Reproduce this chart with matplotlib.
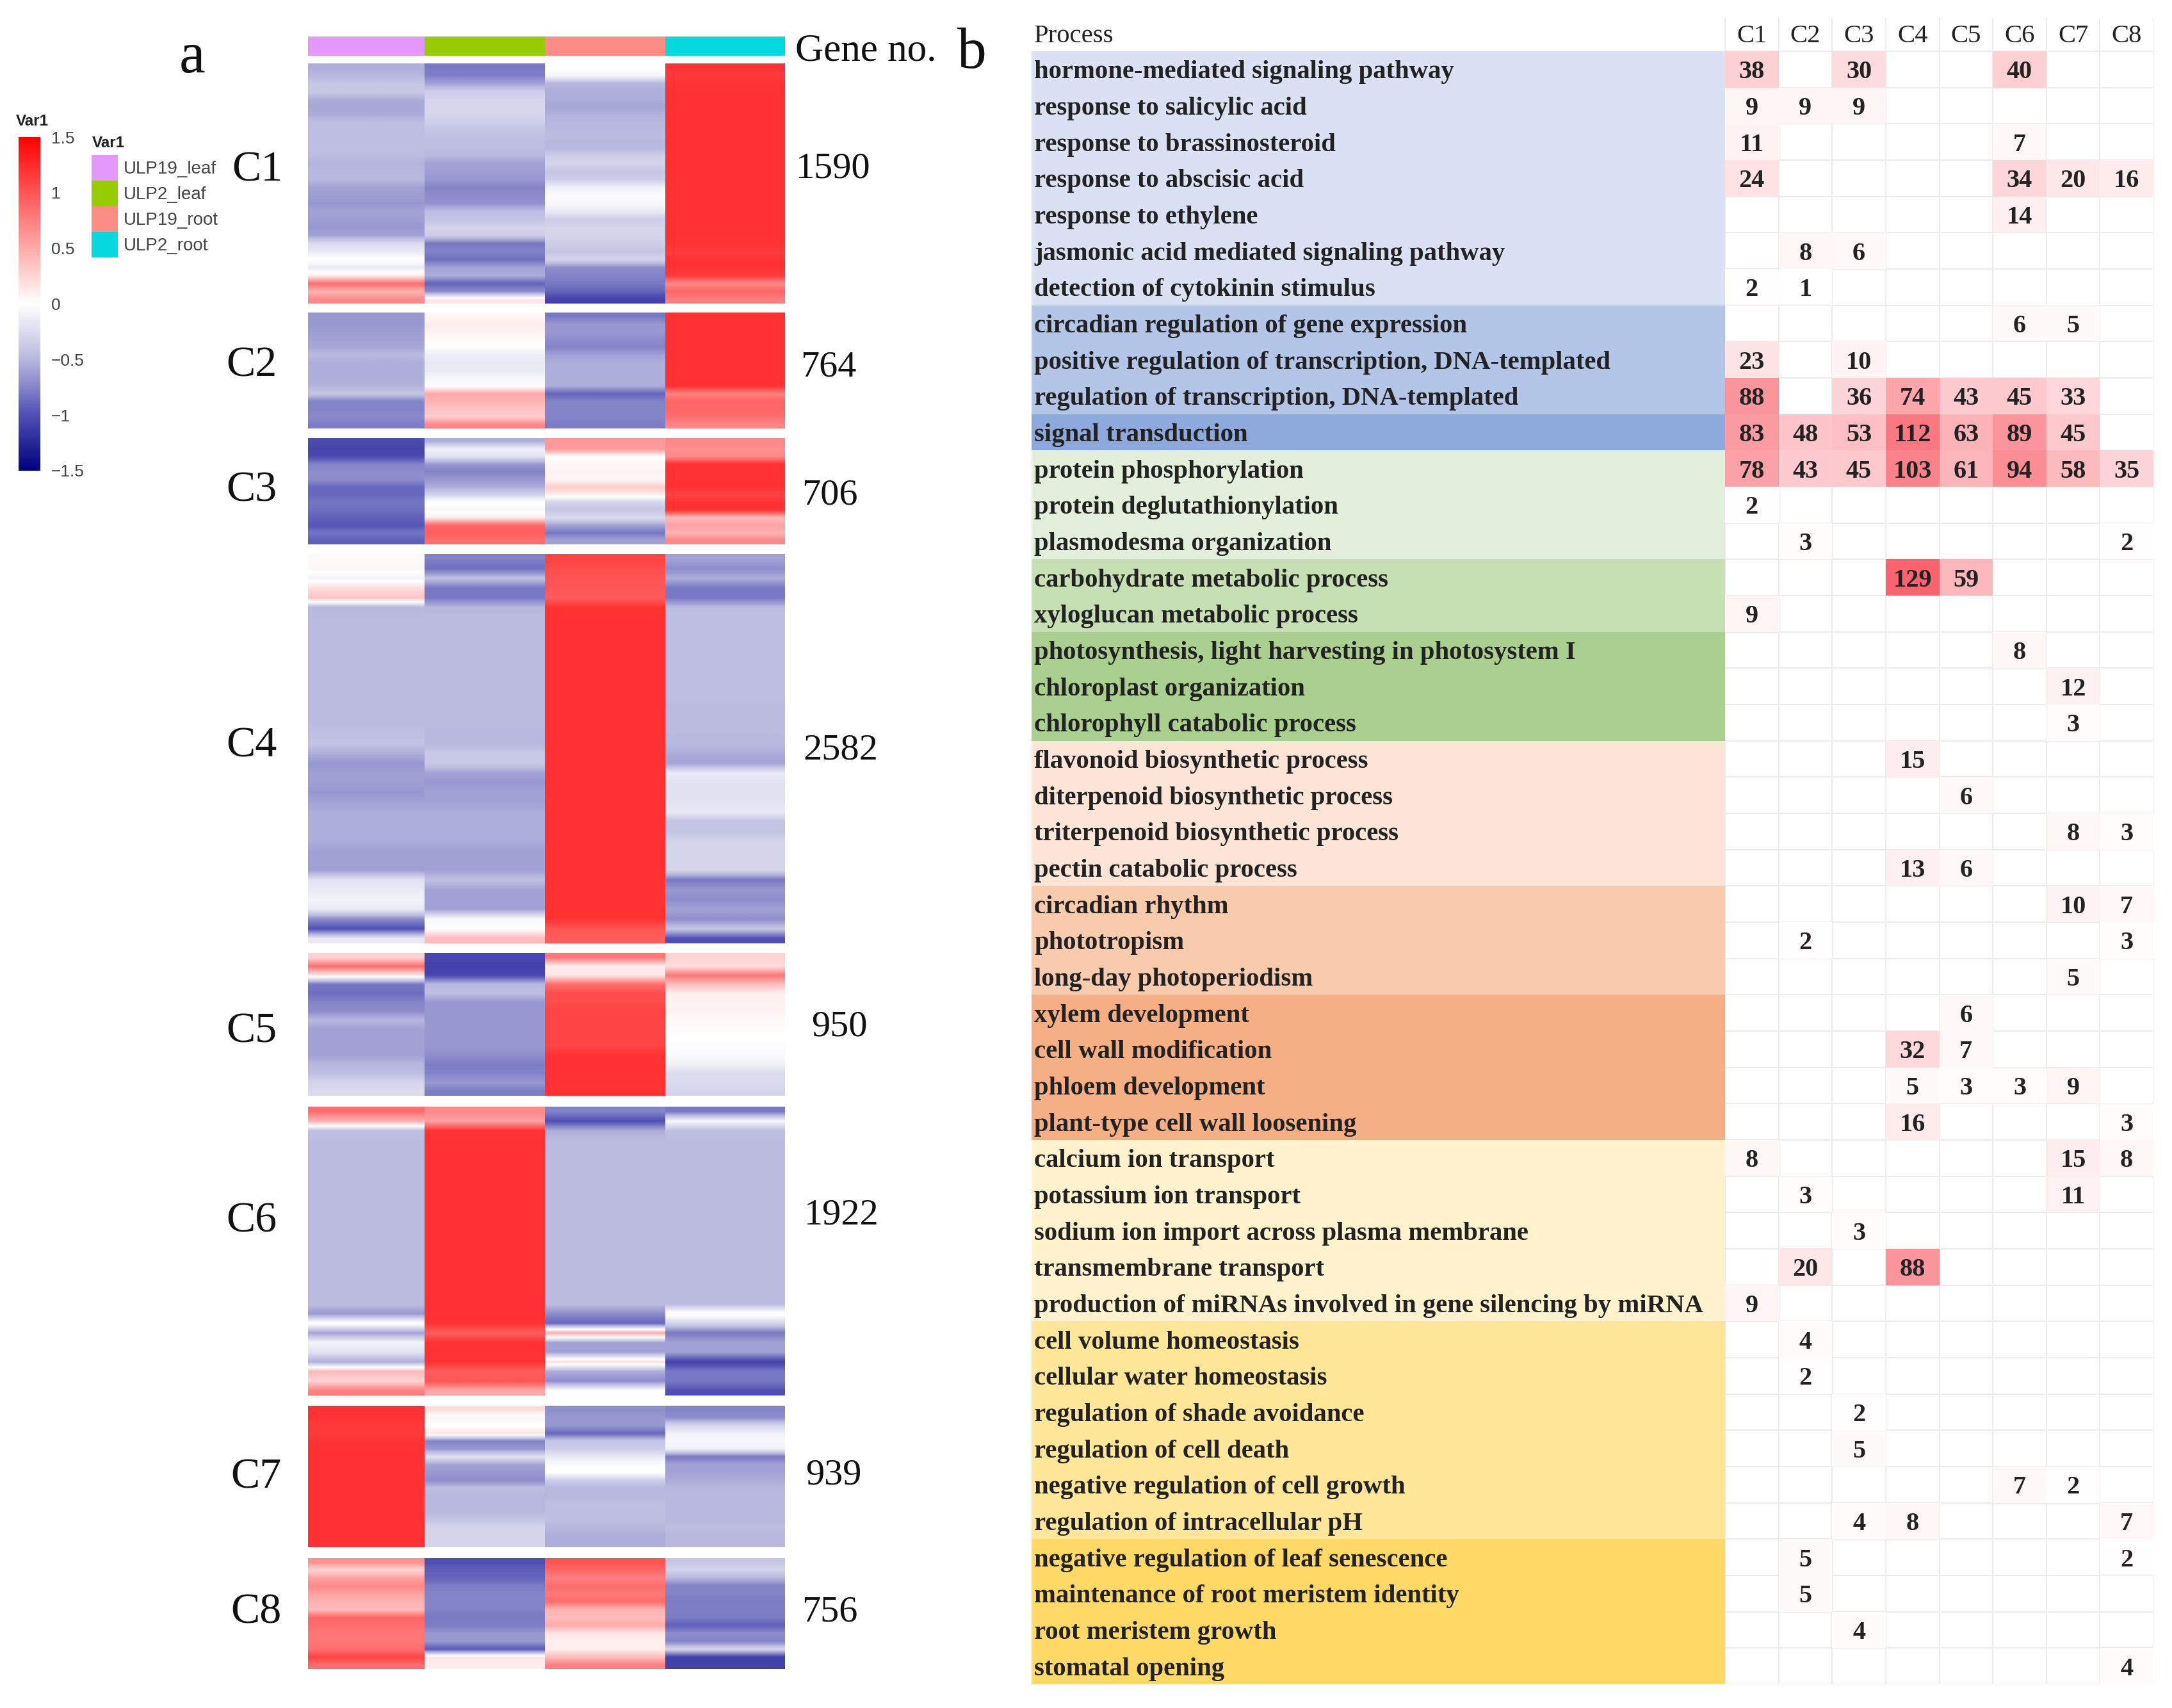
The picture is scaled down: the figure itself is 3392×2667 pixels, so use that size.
import numpy as np
from matplotlib import pyplot as plt
from matplotlib.cm import ScalarMappable
from matplotlib.colors import LinearSegmentedColormap, Normalize

W, H = 3392, 2667
n = np.nan

samples = ['ULP19_leaf', 'ULP2_leaf', 'ULP19_root', 'ULP2_root']
sample_colors = ['#e498fb', '#97cc04', '#fb8d85', '#04d9e0']
cluster_names = ['C1', 'C2', 'C3', 'C4', 'C5', 'C6', 'C7', 'C8']
gene_no = ['1590', '764', '706', '2582', '950', '1922', '939', '756']

# heatmap values, top to bottom (one list per sample in each cluster)
c1_a = [-.55, -.5, -.4, -.38, -.55, -.58, -.55, -.45, -.45, -.45, -.45, -.47, -.52, -.5, -.5, -.6, -.62, -.65, -.6, -.62, -.65, -.6, -.25, -.15, .02, -.15, .1, .85, .45, .7]
c1_b = [-.8, -.78, -.6, -.35, -.3, -.28, -.3, -.35, -.42, -.45, -.45, -.5, -.6, -.62, -.65, -.75, -.7, -.68, -.45, -.42, -.3, -.35, -.8, -.75, -.85, -.6, -.55, -.9, -.7, .15]
c1_c = [0, -.05, -.5, -.55, -.55, -.58, -.52, -.5, -.48, -.48, -.5, -.35, -.3, -.4, -.35, -.1, -.02, -.05, -.15, -.35, -.3, -.3, -.35, -.4, -.3, -.7, -.75, -.8, -.9, -1.08]
c1_d = [1.2, 1.15, 1.2, 1.2, 1.2, 1.2, 1.2, 1.2, 1.2, 1.2, 1.2, 1.2, 1.2, 1.2, 1.2, 1.2, 1.2, 1.2, 1.2, 1.2, 1.2, 1.2, 1.2, 1.15, 1.2, 1.2, 1.15, .7, .9, .75]

c2_a = [-.65, -.65, -.62, -.6, -.58, -.48, -.55, -.55, -.55, -.52, -.4, -.75, -.75, -.72, -.78]
c2_b = [.05, .12, .08, .03, 0, -.12, -.15, -.15, -.05, -.02, .5, .45, .35, .3, .7]
c2_c = [-.8, -.65, -.65, -.7, -.75, -.6, -.55, -.55, -.55, -.55, -.9, -.75, -.75, -.75, -.78]
c2_d = [1.2, 1.2, 1.2, 1.2, 1.2, 1.2, 1.2, 1.2, 1.2, 1.2, .75, .9, .9, .85, .7]

c3_a = [-1.03, -1.06, -1.03, -.75, -.7, -.7, -.88, -.88, -.82, -.85, -.92, -.97, -.82, -.92]
c3_b = [-.55, -.1, -.2, -.65, -.75, -.65, -.55, -.3, .02, -.05, .12, .9, .95, .85]
c3_c = [.6, .6, 0, .05, .08, .05, .3, .1, -.3, -.4, -.25, -.6, -.8, -.6]
c3_d = [.7, .65, .7, 1.2, 1.2, 1.2, 1.2, 1.1, 1.2, 1.2, .4, .55, .45, .7]

c4_a = [.03, .05, -.08, .2, .35, -.5, -.48, -.47, -.47, -.47, -.47, -.47, -.47, -.47, -.47, -.47, -.47, -.47, -.45, -.42, -.55, -.65, -.62, -.62, -.65, -.6, -.55, -.55, -.55, -.55, -.6, -.6, -.62, -.2, -.15, -.08, -.15, -.7, -1.0, -.15]
c4_b = [-.75, -.85, -.45, -.8, -.8, -.5, -.47, -.47, -.47, -.47, -.47, -.47, -.47, -.47, -.47, -.47, -.47, -.47, -.5, -.5, -.38, -.38, -.6, -.65, -.6, -.6, -.55, -.55, -.55, -.55, -.6, -.6, -.6, -.45, -.6, -.6, -.6, -.05, 0, .4]
c4_c = [1.1, 1.05, 1.0, 1.0, .95, 1.2, 1.2, 1.2, 1.2, 1.2, 1.2, 1.2, 1.2, 1.2, 1.2, 1.2, 1.2, 1.2, 1.2, 1.2, 1.2, 1.2, 1.2, 1.2, 1.2, 1.2, 1.2, 1.2, 1.2, 1.2, 1.2, 1.2, 1.2, 1.2, 1.2, 1.2, 1.2, 1.2, 1.0, .95]
c4_d = [-.6, -.7, -.55, -.8, -.8, -.47, -.45, -.45, -.45, -.45, -.45, -.45, -.45, -.45, -.45, -.47, -.47, -.47, -.48, -.5, -.55, -.6, -.15, -.2, -.2, -.2, -.15, -.42, -.42, -.3, -.3, -.3, -.3, -.8, -.65, -.7, -.6, -.7, -.4, -1.0]

c5_a = [.25, .85, .15, -.8, -.85, -.75, -.7, -.5, -.6, -.6, -.6, -.6, -.5, -.45, -.3, -.25]
c5_b = [-1.05, -1.08, -1.05, -.5, -.45, -.65, -.65, -.65, -.65, -.65, -.65, -.7, -.78, -.75, -.65, -.78]
c5_c = [.8, .1, .15, .85, 1.05, 1.05, 1.1, 1.1, 1.1, 1.1, 1.1, 1.2, 1.2, 1.2, 1.2, 1.2]
c5_d = [.25, .2, .8, .4, .1, .08, .08, .03, .02, 0, -.02, -.03, -.1, -.25, -.25, -.3]

c6_a = [.85, .45, -.45, -.47, -.47, -.47, -.47, -.47, -.47, -.47, -.47, -.47, -.47, -.47, -.47, -.47, -.47, -.47, -.47, -.47, -.47, -.65, .05, -.6, -.08, -.2, -.55, .4, .25, .75]
c6_b = [.7, .55, 1.2, 1.2, 1.2, 1.2, 1.2, 1.2, 1.2, 1.2, 1.2, 1.2, 1.2, 1.2, 1.2, 1.2, 1.2, 1.2, 1.2, 1.2, 1.2, 1.2, 1.2, .95, 1.2, 1.2, 1.2, .95, 1.0, .5]
c6_c = [-.75, -1.0, -.55, -.47, -.47, -.47, -.47, -.47, -.47, -.47, -.47, -.47, -.47, -.47, -.47, -.47, -.47, -.47, -.47, -.47, -.47, -.7, -.88, .5, -.6, -.6, .2, -.55, -.7, 0]
c6_d = [-.8, -.05, -.45, -.47, -.47, -.47, -.47, -.47, -.47, -.47, -.47, -.47, -.47, -.47, -.47, -.47, -.47, -.47, -.47, -.47, -.47, .05, -.3, -.8, -.6, -.6, -1.08, -.8, -.8, -1.0]

c7_a = [1.2, 1.2, 1.15, 1.15, 1.2, 1.2, 1.2, 1.2, 1.2, 1.2, 1.2, 1.2, 1.2, 1.2, 1.2, 1.2, 1.2, 1.2]
c7_b = [.2, -.05, 0, .15, -.75, -.65, -.2, -.6, -.65, -.7, -.45, -.5, -.5, -.5, -.4, -.3, -.3, -.3]
c7_c = [-.7, -.65, -.65, -.88, -.4, -.35, -.15, -.02, 0, -.35, -.5, -.5, -.45, -.45, -.45, -.5, -.55, -.55]
c7_d = [-.75, -.7, -.3, -.1, -.05, -.1, -.8, -.6, -.6, -.55, -.5, -.5, -.5, -.5, -.5, -.45, -.5, -.5]

c8_a = [.65, .25, .55, .7, .55, .45, .4, .9, .85, .8, .8, .85, 1.1, .85]
c8_b = [-1.0, -.92, -.9, -.78, -.75, -.75, -.75, -.8, -.78, -.65, -.65, -.95, .15, .1]
c8_c = [1.0, .9, .75, .85, .8, .85, .45, .4, .5, .15, .1, .1, .4, .75]
c8_d = [-.4, -.3, -.5, -.75, -.75, -.78, -.78, -.78, -.92, -.7, -.75, -.3, -1.08, -1.08]

# table b
processes = ['hormone-mediated signaling pathway', 'response to salicylic acid', 'response to brassinosteroid',
             'response to abscisic acid', 'response to ethylene', 'jasmonic acid mediated signaling pathway',
             'detection of cytokinin stimulus', 'circadian regulation of gene expression',
             'positive regulation of transcription, DNA-templated', 'regulation of transcription, DNA-templated',
             'signal transduction', 'protein phosphorylation', 'protein deglutathionylation',
             'plasmodesma organization', 'carbohydrate metabolic process', 'xyloglucan metabolic process',
             'photosynthesis, light harvesting in photosystem I', 'chloroplast organization',
             'chlorophyll catabolic process', 'flavonoid biosynthetic process', 'diterpenoid biosynthetic process',
             'triterpenoid biosynthetic process', 'pectin catabolic process', 'circadian rhythm', 'phototropism',
             'long-day photoperiodism', 'xylem development', 'cell wall modification', 'phloem development',
             'plant-type cell wall loosening', 'calcium ion transport', 'potassium ion transport',
             'sodium ion import across plasma membrane', 'transmembrane transport',
             'production of miRNAs involved in gene silencing by miRNA', 'cell volume homeostasis',
             'cellular water homeostasis', 'regulation of shade avoidance', 'regulation of cell death',
             'negative regulation of cell growth', 'regulation of intracellular pH',
             'negative regulation of leaf senescence', 'maintenance of root meristem identity',
             'root meristem growth', 'stomatal opening']
group_colors = ['#d9e1f2', '#b4c6e7', '#8ea9db', '#e2efda', '#c6e0b4', '#a9d08e', '#fce4d6', '#f8cbad', '#f4b084',
                '#fff2cc', '#ffe699', '#ffd966']
group_sizes = [7, 3, 1, 3, 2, 3, 4, 3, 4, 5, 6, 4]

count_c1 = [38, 9, 11, 24, n, n, 2, n, 23, 88, 83, 78, 2, n, n, 9, n, n, n, n, n, n, n, n, n, n, n, n, n, n, 8, n, n, n, 9, n, n, n, n, n, n, n, n, n, n]
count_c2 = [n, 9, n, n, n, 8, 1, n, n, n, 48, 43, n, 3, n, n, n, n, n, n, n, n, n, n, 2, n, n, n, n, n, n, 3, n, 20, n, 4, 2, n, n, n, n, 5, 5, n, n]
count_c3 = [30, 9, n, n, n, 6, n, n, 10, 36, 53, 45, n, n, n, n, n, n, n, n, n, n, n, n, n, n, n, n, n, n, n, n, 3, n, n, n, n, 2, 5, n, 4, n, n, 4, n]
count_c4 = [n, n, n, n, n, n, n, n, n, 74, 112, 103, n, n, 129, n, n, n, n, 15, n, n, 13, n, n, n, n, 32, 5, 16, n, n, n, 88, n, n, n, n, n, n, 8, n, n, n, n]
count_c5 = [n, n, n, n, n, n, n, n, n, 43, 63, 61, n, n, 59, n, n, n, n, n, 6, n, 6, n, n, n, 6, 7, 3, n, n, n, n, n, n, n, n, n, n, n, n, n, n, n, n]
count_c6 = [40, n, 7, 34, 14, n, n, 6, n, 45, 89, 94, n, n, n, n, 8, n, n, n, n, n, n, n, n, n, n, n, 3, n, n, n, n, n, n, n, n, n, n, 7, n, n, n, n, n]
count_c7 = [n, n, n, 20, n, n, n, 5, n, 33, 45, 58, n, n, n, n, n, 12, 3, n, n, 8, n, 10, n, 5, n, n, 9, n, 15, 11, n, n, n, n, n, n, n, 2, n, n, n, n, n]
count_c8 = [n, n, n, 16, n, n, n, n, n, n, n, 35, n, 2, n, n, n, n, n, n, n, 3, n, 7, 3, n, n, n, n, 3, 8, n, n, n, n, n, n, n, n, n, 7, 2, n, n, 4]

plt.rcParams['font.family'] = ['Liberation Serif', 'DejaVu Serif']
fig = plt.figure(figsize=(W / 100, H / 100), dpi=100, facecolor='white')


def add_ax(left, top, right, bottom):
    # axes from pixel box of the reference
    return fig.add_axes([left / W, 1 - bottom / H, (right - left) / W, (bottom - top) / H])


def put(x, y, s, **kw):
    fig.text(x / W, 1 - y / H, s, **kw)


# a: heatmap
heat_cmap = LinearSegmentedColormap.from_list('bwr_navy', [(0, '#00007f'), (1 / 6, '#5050b4'), (1 / 3, '#b8b8df'),
                                                           (0.5, '#ffffff'), (1, '#ff0000')])
heat_norm = Normalize(-1.5, 1.5)
col_edges = [481, 663, 851, 1039, 1226]
cluster_boxes = [(99, 474), (488, 669), (684, 850), (865, 1473), (1488, 1711), (1728, 2179), (2195, 2416), (2433, 2606)]
clusters = [[c1_a, c1_b, c1_c, c1_d], [c2_a, c2_b, c2_c, c2_d], [c3_a, c3_b, c3_c, c3_d], [c4_a, c4_b, c4_c, c4_d],
            [c5_a, c5_b, c5_c, c5_d], [c6_a, c6_b, c6_c, c6_d], [c7_a, c7_b, c7_c, c7_d], [c8_a, c8_b, c8_c, c8_d]]

for cols, (top, bottom) in zip(clusters, cluster_boxes):
    ax = add_ax(col_edges[0], top, col_edges[-1], bottom)
    for j, col in enumerate(cols):
        # each sample on its own so stripes blend only along the column
        ax.imshow(np.array(col)[:, None], extent=(col_edges[j], col_edges[j + 1], len(col), 0), aspect='auto',
                  interpolation='bilinear', cmap=heat_cmap, norm=heat_norm)
    ax.set_xlim(col_edges[0], col_edges[-1])
    ax.set_ylim(len(cols[0]), 0)
    ax.axis('off')

ax = add_ax(col_edges[0], 57, col_edges[-1], 87)
ax.bar(col_edges[:-1], 1, width=np.diff(col_edges), align='edge', color=sample_colors)
ax.set_xlim(col_edges[0], col_edges[-1])
ax.set_ylim(0, 1)
ax.axis('off')

label_xy = [(402, 266), (393, 571), (393, 766), (393, 1165), (393, 1611), (393, 1907), (400, 2307), (400, 2518)]
for name, (x, y) in zip(cluster_names, label_xy):
    put(x, y, name, fontsize=49, ha='center', va='center', color='#111111')
num_xy = [(1243, 264), (1250, 573), (1252, 773), (1254, 1172), (1267, 1603), (1256, 1898), (1258, 2304), (1252, 2518)]
for name, (x, y) in zip(gene_no, num_xy):
    put(x, y, name, fontsize=42, ha='left', va='center', color='#111111')
put(1242, 80, 'Gene no.', fontsize=44, ha='left', va='center', color='#111111')
put(300, 91, 'a', fontsize=66, ha='center', va='center', color='#111111')
put(1518, 84, 'b', fontsize=66, ha='center', va='center', color='#111111')

# colorbar and sample legend
sans = ['Liberation Sans', 'DejaVu Sans']
cax = add_ax(29, 214, 63, 735)
cb = fig.colorbar(ScalarMappable(norm=heat_norm, cmap=heat_cmap), cax=cax, ticks=[-1.5, -1, -0.5, 0, 0.5, 1, 1.5])
cb.outline.set_visible(False)
cb.ax.tick_params(length=0, pad=12, labelsize=19, labelcolor='#444444')
cb.ax.set_yticklabels(['\u22121.5', '\u22121', '\u22120.5', '0', '0.5', '1', '1.5'], family=sans)
put(25, 189, 'Var1', fontsize=17.5, fontweight='bold', family=sans, va='center', color='#222222')
put(144, 223, 'Var1', fontsize=17.5, fontweight='bold', family=sans, va='center', color='#222222')

ax = add_ax(143, 242, 184, 402)
ax.barh(np.arange(4), 1, height=1, color=sample_colors)
ax.set_ylim(3.5, -0.5)
ax.set_xlim(0, 1)
ax.axis('off')
for i, s in enumerate(samples):
    ax.text(1.22, i + 0.05, s, fontsize=20, family=sans, va='center', color='#444444', clip_on=False)

# b: table
row_h = (2630 - 80) / 45
col_w = (3363 - 2694) / 8
proc_w = (2694 - 1611) / col_w
counts = np.array([count_c1, count_c2, count_c3, count_c4, count_c5, count_c6, count_c7, count_c8], dtype=float).T
count_cmap = LinearSegmentedColormap.from_list('count_red', ['#ffffff', '#f9646e'])

ax = add_ax(1611, 28, 3363, 2630)
ax.hlines(np.arange(46), 0, 8, color='#ececec', lw=1.5, zorder=1)
ax.vlines(np.arange(9), -52 / row_h, 45, color='#ececec', lw=1.5, zorder=1)
ax.pcolormesh(np.arange(9), np.arange(46), counts, cmap=count_cmap, vmin=0, vmax=129, zorder=2)
row_colors = np.repeat(group_colors, group_sizes)
ax.barh(np.arange(45) + 0.5, proc_w, left=-proc_w, height=1, color=row_colors, zorder=2)
ax.set_xlim(-proc_w, 8)
ax.set_ylim(45, -52 / row_h)
ax.axis('off')

ax.text(-proc_w + 0.05, -0.42, 'Process', fontsize=29.3, va='center', color='#222222', zorder=3)
for j, name in enumerate(cluster_names):
    ax.text(j + 0.5, -0.42, name, fontsize=29.3, ha='center', va='center', color='#222222', zorder=3)
for i, name in enumerate(processes):
    ax.text(-proc_w + 0.05, i + 0.58, name, fontsize=29.3, fontweight='bold', va='center', color='#222222', zorder=3)
    for j in range(8):
        if not np.isnan(counts[i, j]):
            ax.text(j + 0.5, i + 0.58, '%d' % counts[i, j], fontsize=29, fontweight='bold', ha='center', va='center',
                    color='#222222', zorder=3)

fig.savefig('out.png', dpi=100)
